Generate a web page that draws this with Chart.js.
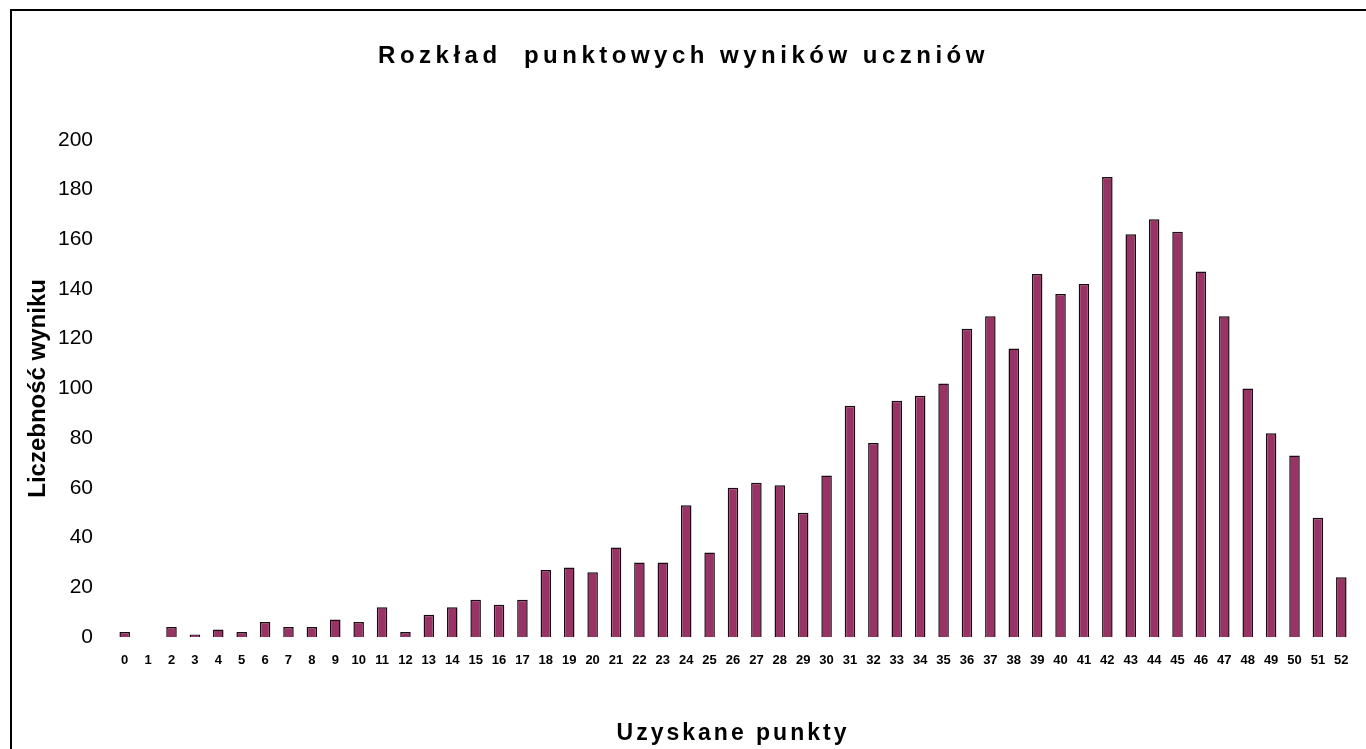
<!DOCTYPE html>
<html lang="pl">
<head>
  <meta charset="UTF-8">
  <title>Rozkład punktowych wyników uczniów</title>
  <script src="https://cdn.jsdelivr.net/npm/chart.js"></script>
  <style>
    html, body { margin: 0; padding: 0; background: #fff; overflow: hidden; }
    #wrap { position: relative; width: 1366px; height: 749px; }
    #frame { position: absolute; left: 10px; top: 9px; width: 1370px; height: 760px; border: 2px solid #000; box-sizing: border-box; pointer-events: none; }
  </style>
</head>
<body>
  <div id="wrap">
    <canvas id="chart" width="1366" height="749"></canvas>
    <div id="frame"></div>
  </div>

  <script>
    // punkty 0..52 i liczba uczniów z danym wynikiem
    const points = [];
    for (let p = 0; p <= 52; p++) points.push(String(p));
    const counts = [
      2, 0, 4, 1, 3, 2, 6, 4, 4, 7,
      6, 12, 2, 9, 12, 15, 13, 15, 27, 28,
      26, 36, 30, 30, 53, 34, 60, 62, 61, 50,
      65, 93, 78, 95, 97, 102, 124, 129, 116, 146,
      138, 142, 185, 162, 168, 163, 147, 129, 100, 82,
      73, 48, 24
    ];
    const yTicks = [0, 20, 40, 60, 80, 100, 120, 140, 160, 180, 200];

    const chartTitle = 'Rozkład  punktowych wyników uczniów';
    const xTitle = 'Uzyskane punkty';
    const yTitle = 'Liczebność wyniku';

    // rozstrzelone litery w tytułach
    const spacing = {
      id: 'spacing',
      beforeDraw(chart) {
        const ctx = chart.ctx;
        const tb = chart.titleBlock;
        if (tb && !tb._spaced) {
          const orig = tb.draw.bind(tb);
          tb.draw = function () {
            ctx.save();
            ctx.letterSpacing = '4.5px';
            orig();
            ctx.restore();
          };
          tb._spaced = true;
        }
        const sx = chart.scales.x;
        if (sx && !sx._spaced) {
          const origT = sx.drawTitle;
          sx.drawTitle = function () {
            ctx.save();
            ctx.letterSpacing = '3px';
            origT.apply(this, arguments);
            ctx.restore();
          };
          sx._spaced = true;
        }
      }
    };

    new Chart(document.getElementById('chart'), {
      type: 'bar',
      data: {
        labels: points,
        datasets: [{
          data: counts,
          backgroundColor: '#993366',
          borderColor: '#1a0a12',
          borderWidth: 1.5,
          barPercentage: 0.45,
          categoryPercentage: 1
        }]
      },
      options: {
        responsive: false,
        animation: false,
        layout: { padding: { left: 14, right: 13, top: 0, bottom: 2 } },
        plugins: {
          legend: { display: false },
          tooltip: { enabled: false },
          title: {
            display: true,
            text: chartTitle,
            color: '#000',
            font: { family: "'Liberation Sans', Arial", size: 24, weight: 'bold' },
            padding: { top: 42, bottom: 69 }
          }
        },
        scales: {
          x: {
            grid: { display: false, drawTicks: false },
            border: { display: false },
            afterFit(axis) { axis.height = 110; },
            ticks: {
              color: '#000',
              font: { family: "'Liberation Sans', Arial", size: 13, weight: 'bold' },
              padding: 16,
              maxRotation: 0,
              autoSkip: false
            },
            title: {
              display: true,
              text: xTitle,
              color: '#000',
              font: { family: "'Liberation Sans', Arial", size: 23, weight: 'bold' },
              padding: { top: 0, bottom: 0 }
            }
          },
          y: {
            min: 0,
            max: 200,
            afterBuildTicks(axis) { axis.ticks = yTicks.map(v => ({ value: v })); },
            afterFit(axis) { axis.width = 99; },
            grid: { display: false, drawTicks: false },
            border: { display: false },
            ticks: {
              color: '#000',
              font: { family: "'Liberation Sans', Arial", size: 21 },
              padding: 20
            },
            title: {
              display: true,
              text: yTitle,
              color: '#000',
              font: { family: "'Liberation Sans', Arial", size: 24, weight: 'bold' },
              padding: { top: 10, bottom: 0 }
            }
          }
        }
      },
      plugins: [spacing]
    });
  </script>
</body>
</html>
